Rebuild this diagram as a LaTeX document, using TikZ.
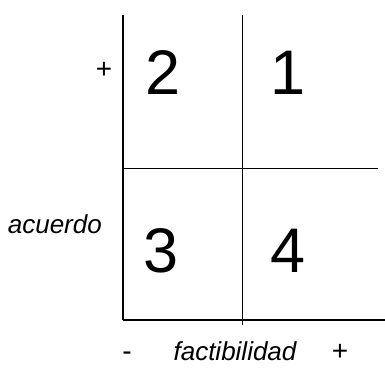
\documentclass[tikz,border=0pt]{standalone}
\usepackage{fontspec}
\setmainfont{Liberation Sans}
\usepackage{tikz}
\usetikzlibrary{positioning}
\tikzset{
  axisline/.style={line width=1.3pt},
  gridline/.style={line width=0.9pt},
  cellnum/.style={font=\fontsize{63}{63}\selectfont, inner sep=0pt},
  axislbl/.style={font=\fontsize{26}{26}\selectfont\itshape, inner sep=0pt},
  signlbl/.style={font=\fontsize{28}{28}\selectfont, inner sep=0pt}
}
\begin{document}
\begin{tikzpicture}[x=1pt,y=-1pt]
\useasboundingbox (0,0) rectangle (385,367);
% corners of the grid
\coordinate (tl) at (123,15);
\coordinate (tm) at (242,15);
\coordinate (ml) at (123,168);
\coordinate (mr) at (378,168);
\coordinate (bl) at (123,320);
\coordinate (bm) at (242,325);
\coordinate (br) at (385,320);
% grid lines
\draw[axisline] (tl) -- (bl);
\draw[gridline] (tm) -- (bm);
\draw[gridline] (ml) -- (mr);
\draw[axisline] (bl) -- (br);
% cell numbers
\node[cellnum] (q2) at (163,72.5) {2};
\node[cellnum] (q1) at (288,72.5) {1};
\node[cellnum] (q3) at (161,251) {3};
\node[cellnum] (q4) at (288,251) {4};
% vertical axis
\node[signlbl] (yplus) at (104,70) {+};
\node[axislbl, anchor=base east] (ylbl) at (102,233) {acuerdo};
% horizontal axis
\node[signlbl, anchor=base] (xminus) at (127,360) {-};
\node[axislbl, anchor=base] (xlbl) at (235,360) {factibilidad};
\node[signlbl, anchor=base] (xplus) at (340,360) {+};
\end{tikzpicture}
\end{document}
